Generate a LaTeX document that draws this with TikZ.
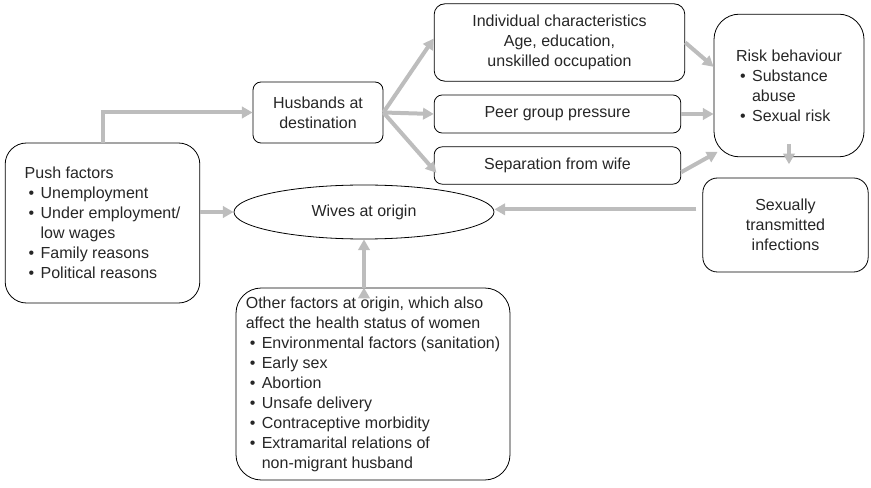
\documentclass[tikz,border=0pt]{standalone}
\usepackage{fontspec}
\setmainfont{Liberation Sans}
\usepackage{tikz}
\usetikzlibrary{arrows.meta}
\usetikzlibrary{positioning}
\usetikzlibrary{shapes,calc}
\definecolor{flowgrey}{HTML}{BDBDBD}
\newcommand{\bpt}{\hspace*{3pt}\makebox[9pt][l]{\textbullet}}
\newcommand{\bind}{\hspace*{12pt}}
\tikzset{
    state/.style={
           rectangle,
           rounded corners=6pt,
           draw=black, semithick,
           inner sep=2pt,
           text centered,
           font=\fontsize{12}{15}\selectfont,
           text=black!85,
           },
    state2/.style={
           state,
           rounded corners=16pt,
           align=left,
           },
    flow/.style={
           draw=flowgrey,
           line width=3pt,
           -{Triangle[length=8pt,width=8.5pt,color=flowgrey,fill=flowgrey]},
           },
}
\begin{document}
\begin{tikzpicture}[x=0.75pt,y=-0.75pt]
 \useasboundingbox (0,0) rectangle (871,488);

 % PUSH FACTORS
 \node[state2,
 minimum width=146pt, minimum height=120pt] (PUSH) at (102.5,223)
 {%
 Push factors\\
 \bpt Unemployment\\
 \bpt Under employment/\\
 \bind low wages\\
 \bpt Family reasons\\
 \bpt Political reasons
 };

 % HUSBANDS
 \node[state, align=center,
 minimum width=97.5pt, minimum height=45.75pt] (HUSB) at (318,112.5)
 {%
 Husbands at\\destination
 };

 % THREE CONDITIONS AT DESTINATION
 \node[state, align=center, rounded corners=8pt,
 minimum width=188pt, minimum height=58pt] (INDIV) at (559.5,42.5)
 {%
 Individual characteristics\\
 Age, education,\\
 unskilled occupation
 };
 \node[state,
 minimum width=185pt, minimum height=28.5pt] (PEER) at (557.5,114)
 {Peer group pressure};
 \node[state,
 minimum width=185pt, minimum height=28pt] (SEPAR) at (557.5,165.5)
 {Separation from wife};

 % RISK BEHAVIOUR
 \node[state2, rounded corners=19pt,
 minimum width=112.5pt, minimum height=107pt] (RISK) at (789,85.5)
 {%
 Risk behaviour\\
 \bpt Substance\\
 \bind abuse\\
 \bpt Sexual risk
 };

 % STI
 \node[state, align=center, rounded corners=11pt,
 minimum width=124pt, minimum height=70.5pt] (STI) at (785.5,225)
 {%
 Sexually\\transmitted\\infections
 };

 % WIVES
 \node[state, ellipse, inner sep=0pt,
 minimum width=195pt, minimum height=40.5pt] (WIVES) at (364,212)
 {Wives at origin};

 % OTHER FACTORS AT ORIGIN
 \node[state2, rounded corners=19pt,
 minimum width=205.5pt, minimum height=144pt] (OTHER) at (373,384)
 {%
 Other factors at origin, which also\\
 affect the health status of women\\
 \bpt Environmental factors (sanitation)\\
 \bpt Early sex\\
 \bpt Abortion\\
 \bpt Unsafe delivery\\
 \bpt Contraceptive morbidity\\
 \bpt Extramarital relations of\\
 \bind non-migrant husband
 };

 % the grey arrows
 \draw[flow] (PUSH.north) |- (HUSB.west);
 \path[flow]
  (PUSH.east |- WIVES.west) edge (WIVES.west)
  (HUSB.east) edge ([yshift=3pt]INDIV.west)
  (HUSB.east) edge (PEER.west)
  (HUSB.east) edge ([xshift=2pt,yshift=-5.5pt]SEPAR.west)
  (INDIV.east) edge ([yshift=14pt]RISK.west)
  (PEER.east) edge (RISK.west |- PEER.east)
  ([yshift=-5pt]SEPAR.east) edge ([xshift=3pt,yshift=4pt]RISK.south west)
  ([yshift=10pt]RISK.south) edge ([yshift=10pt]RISK.south |- STI.north)
  ([xshift=-4.5pt,yshift=2pt]STI.west |- WIVES.east) edge ([yshift=2pt]WIVES.east)
  (WIVES.south |- OTHER.north) edge (WIVES.south)
 ;
\end{tikzpicture}
\end{document}
